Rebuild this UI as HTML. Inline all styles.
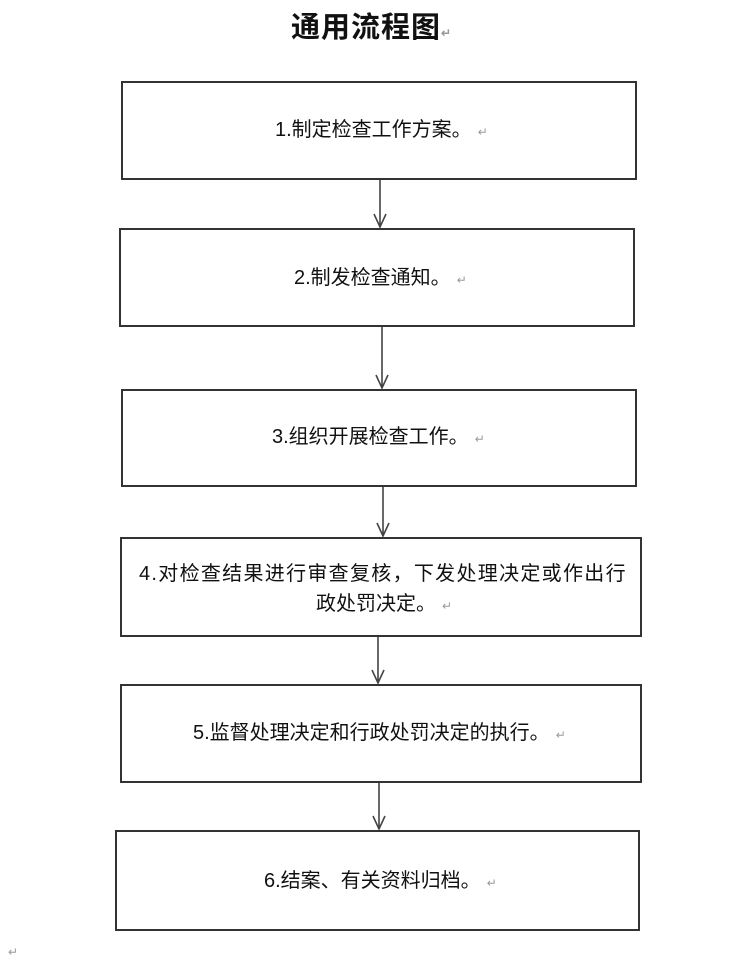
<!DOCTYPE html>
<html><head><meta charset="utf-8"><style>
body{margin:0;width:740px;height:964px;background:#fff;position:relative;overflow:hidden;font-family:"Liberation Sans","Noto Sans CJK SC",sans-serif;color:#111}
.t{position:absolute;white-space:nowrap;font-size:20px;line-height:24px}
.b{position:absolute;border:2px solid #333;box-sizing:border-box}
.r{color:#999;font-size:12px;margin-left:6px}
</style></head><body>
<div class="t" style="left:291px;top:10px;font-size:29px;line-height:36px;font-weight:bold;letter-spacing:1px">通用流程图<span class="r" style="margin-left:0">↵</span></div>
<div class="b" style="left:121px;top:81px;width:516px;height:99px"></div>
<div class="b" style="left:119px;top:228px;width:516px;height:99px"></div>
<div class="b" style="left:121px;top:389px;width:516px;height:98px"></div>
<div class="b" style="left:120px;top:537px;width:522px;height:100px"></div>
<div class="b" style="left:120px;top:684px;width:522px;height:99px"></div>
<div class="b" style="left:115px;top:830px;width:525px;height:101px"></div>
<svg width="740" height="964" style="position:absolute;left:0;top:0" fill="none" stroke="#444" stroke-width="1.6">
<path d="M380 180V227M374 214L380 227L386 214"/>
<path d="M382 327V388M376 375L382 388L388 375"/>
<path d="M383 487V536M377 523L383 536L389 523"/>
<path d="M378 637V683M372 670L378 683L384 670"/>
<path d="M379 783V829M373 816L379 829L385 816"/>
</svg>
<div class="t" style="left:275px;top:118px">1.制定检查工作方案。<span class="r">↵</span></div>
<div class="t" style="left:294px;top:266px">2.制发检查通知。<span class="r">↵</span></div>
<div class="t" style="left:272px;top:425px">3.组织开展检查工作。<span class="r">↵</span></div>
<div class="t" style="left:139px;top:562px;letter-spacing:1.3px">4.对检查结果进行审查复核，下发处理决定或作出行</div>
<div class="t" style="left:316px;top:592px">政处罚决定。<span class="r">↵</span></div>
<div class="t" style="left:193px;top:721px">5.监督处理决定和行政处罚决定的执行。<span class="r">↵</span></div>
<div class="t" style="left:264px;top:869px">6.结案、有关资料归档。<span class="r">↵</span></div>
<div class="t" style="left:8px;top:940px;color:#999;font-size:12px">↵</div>
</body></html>
